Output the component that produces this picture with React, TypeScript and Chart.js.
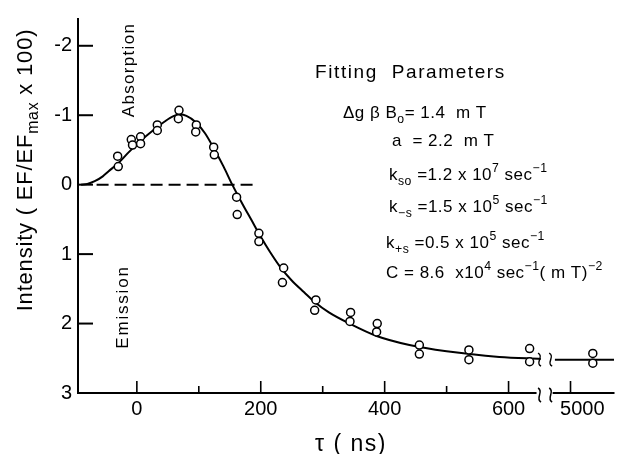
import React, { useEffect, useRef } from "react";
import { Chart, registerables } from "chart.js";

Chart.register(...registerables);

const FONT = "'Liberation Sans', Arial, Helvetica, sans-serif";

// Measured data points: delay time tau (ns) and intensity (EF/EFmax x 100)
const pointTau = [-31, -30, -9, -7, 6, 6, 33, 33, 68, 67, 96, 95, 124, 125, 161, 162, 197, 197, 237, 235, 289, 287, 345, 344, 388, 387, 456, 456, 536, 536, 634, 634, 5200, 5200];
const pointVal = [-0.41, -0.26, -0.65, -0.57, -0.69, -0.59, -0.86, -0.78, -1.07, -0.95, -0.86, -0.76, -0.54, -0.43, 0.18, 0.43, 0.7, 0.82, 1.2, 1.41, 1.66, 1.81, 1.84, 1.97, 2.0, 2.12, 2.31, 2.44, 2.38, 2.52, 2.36, 2.55, 2.43, 2.57];

// Fitted curve
const fitTau = [-90, -80, -68, -55, -46, -30, -15, 0, 15, 30, 45, 60, 70, 80, 95, 110, 125, 140, 154, 170, 185, 200, 215, 231, 250, 270, 287, 310, 343, 387, 440, 500, 585, 652];
const fitVal = [0.0, -0.01, -0.05, -0.12, -0.19, -0.31, -0.45, -0.58, -0.7, -0.81, -0.91, -0.99, -1.01, -0.99, -0.9, -0.74, -0.51, -0.26, 0.0, 0.27, 0.51, 0.75, 0.97, 1.18, 1.38, 1.55, 1.69, 1.84, 2.0, 2.18, 2.31, 2.4, 2.48, 2.51];
const tailTau = [4860, 5390];
const tailVal = [2.52, 2.52];

// Dashed zero line
const zeroTau = [-65, 190];
const zeroVal = [0, 0];

// Axes
const xMajorTicks = [0, 200, 400, 600, 5000];
const xMinorTicks = [100, 300, 500];
const yTicks = [-2, -1, 0, 1, 2, 3];
const X_MIN = -95;
const X_MAX = 771;
const Y_MIN = -2.4;
const Y_MAX = 3;

// Axis break: 5000 ns is drawn where 700 ns would be
const BREAK_AT = 5000;
const BREAK_POS = 700;
const BREAK_FACTOR = 0.18;
const breakMarksTau = [650, 4822];
const BREAK_LABEL_NUDGE = 19;

const toAxis = (t: number) => (t >= 1000 ? BREAK_POS + (t - BREAK_AT) * BREAK_FACTOR : t);

type Seg = { t: string; s?: "sub" | "sup" };

function segWidth(ctx: CanvasRenderingContext2D, segs: Seg[], size: number, spacing: number) {
  let w = 0;
  for (const seg of segs) {
    const fs = seg.s ? size * 0.72 : size;
    ctx.font = `${fs}px ${FONT}`;
    (ctx as any).letterSpacing = `${spacing}px`;
    w += ctx.measureText(seg.t).width;
  }
  return w;
}

function drawRich(ctx: CanvasRenderingContext2D, segs: Seg[], x: number, y: number, size: number, spacing: number) {
  let cx = x;
  ctx.textBaseline = "alphabetic";
  ctx.textAlign = "left";
  for (const seg of segs) {
    const fs = seg.s ? size * 0.72 : size;
    ctx.font = `${fs}px ${FONT}`;
    (ctx as any).letterSpacing = `${spacing}px`;
    const dy = seg.s === "sub" ? size * 0.28 : seg.s === "sup" ? -size * 0.45 : 0;
    ctx.fillText(seg.t, cx, y + dy);
    cx += ctx.measureText(seg.t).width;
  }
  (ctx as any).letterSpacing = "0px";
}

function drawRotated(ctx: CanvasRenderingContext2D, segs: Seg[], baseX: number, centerY: number, size: number, spacing: number) {
  const w = segWidth(ctx, segs, size, spacing);
  ctx.save();
  ctx.translate(baseX, centerY);
  ctx.rotate(-Math.PI / 2);
  drawRich(ctx, segs, -w / 2, 0, size, spacing);
  ctx.restore();
}

function squiggle(ctx: CanvasRenderingContext2D, cx: number, cy: number, h: number) {
  ctx.beginPath();
  ctx.moveTo(cx - 1.5, cy - h / 2);
  ctx.bezierCurveTo(cx + 5, cy - h / 4, cx - 5, cy + h / 4, cx + 1.5, cy + h / 2);
  ctx.stroke();
}

const decorPlugin = {
  id: "decor",
  afterDraw(chart: any) {
    const ctx: CanvasRenderingContext2D = chart.ctx;
    const xs = chart.scales.x;
    const ys = chart.scales.y;
    const { left, right, top, bottom } = chart.chartArea;
    ctx.save();
    ctx.strokeStyle = "#000";
    ctx.fillStyle = "#000";
    ctx.lineWidth = 2;
    ctx.lineCap = "butt";

    const gapL = xs.getPixelForValue(toAxis(breakMarksTau[0])) - 3;
    const gapR = xs.getPixelForValue(toAxis(breakMarksTau[1])) + 2;

    // axes
    ctx.beginPath();
    ctx.moveTo(left, top);
    ctx.lineTo(left, bottom + 1);
    ctx.moveTo(left - 1, bottom);
    ctx.lineTo(gapL, bottom);
    ctx.moveTo(gapR, bottom);
    ctx.lineTo(right, bottom);
    ctx.stroke();

    // y ticks (inside)
    ctx.lineWidth = 2;
    for (const v of yTicks) {
      if (v === Y_MAX) continue;
      const py = ys.getPixelForValue(v);
      ctx.beginPath();
      ctx.moveTo(left, py);
      ctx.lineTo(left + 15, py);
      ctx.stroke();
    }
    // x ticks (inside)
    ctx.lineWidth = 1.6;
    for (const t of xMajorTicks) {
      const px = xs.getPixelForValue(toAxis(t));
      ctx.beginPath();
      ctx.moveTo(px, bottom);
      ctx.lineTo(px, bottom - 12);
      ctx.stroke();
    }
    for (const t of xMinorTicks) {
      const px = xs.getPixelForValue(toAxis(t));
      ctx.beginPath();
      ctx.moveTo(px, bottom);
      ctx.lineTo(px, bottom - 7);
      ctx.stroke();
    }

    // break marks on axis and on curve
    ctx.lineWidth = 1.5;
    const curveY = ys.getPixelForValue(tailVal[0]);
    for (const t of breakMarksTau) {
      const px = xs.getPixelForValue(toAxis(t));
      squiggle(ctx, px, bottom + 2, 14);
      squiggle(ctx, px, curveY, 13);
    }

    // axis titles
    drawRotated(ctx, [{ t: "Intensity ( EF/EF" }, { t: "max", s: "sub" }, { t: " x 100)" }], 32, 170, 22, 0.8);
    drawRich(ctx, [{ t: "τ ( ns)" }], 315, 451, 23, 1.5);

    // annotations
    drawRotated(ctx, [{ t: "Absorption" }], 134, 70, 17, 1.3);
    drawRotated(ctx, [{ t: "Emission" }], 128, 307, 17, 1.8);

    const P = 17;
    const SP = 0.5;
    drawRich(ctx, [{ t: "Fitting  Parameters" }], 315, 78, 19, 1.6);
    drawRich(ctx, [{ t: "Δg β B" }, { t: "o", s: "sub" }, { t: "= 1.4  m T" }], 343, 118, P, SP);
    drawRich(ctx, [{ t: "a  = 2.2  m T" }], 392, 146, P, SP);
    drawRich(ctx, [{ t: "k" }, { t: "so", s: "sub" }, { t: " =1.2 x 10" }, { t: "7", s: "sup" }, { t: " sec" }, { t: "−1", s: "sup" }], 389, 180, P, SP);
    drawRich(ctx, [{ t: "k" }, { t: "−s", s: "sub" }, { t: " =1.5 x 10" }, { t: "5", s: "sup" }, { t: " sec" }, { t: "−1", s: "sup" }], 389, 212, P, SP);
    drawRich(ctx, [{ t: "k" }, { t: "+s", s: "sub" }, { t: " =0.5 x 10" }, { t: "5", s: "sup" }, { t: " sec" }, { t: "−1", s: "sup" }], 386, 248, P, SP);
    drawRich(ctx, [{ t: "C = 8.6  x10" }, { t: "4", s: "sup" }, { t: " sec" }, { t: "−1", s: "sup" }, { t: "( m T)" }, { t: "−2", s: "sup" }], 386, 278, P, SP);

    ctx.restore();
  },
};

export default function App() {
  const ref = useRef<HTMLCanvasElement | null>(null);

  useEffect(() => {
    if (!ref.current) return;
    const xLabelTicks = xMajorTicks.map((t) => toAxis(t) + (t >= 1000 ? BREAK_LABEL_NUDGE : 0));
    const labelFor = (v: number) => {
      const i = xLabelTicks.findIndex((p) => Math.abs(p - v) < 1e-6);
      return i >= 0 ? String(xMajorTicks[i]) : "";
    };

    const chart = new Chart(ref.current, {
      type: "line",
      data: {
        datasets: [
          {
            type: "scatter",
            label: "data",
            data: pointTau.map((t, i) => ({ x: toAxis(t), y: pointVal[i] })),
            showLine: false,
            pointRadius: 4,
            pointBorderWidth: 1.5,
            pointBackgroundColor: "#fff",
            pointBorderColor: "#000",
            borderColor: "#000",
          } as any,
          {
            label: "fit",
            data: fitTau.map((t, i) => ({ x: toAxis(t), y: fitVal[i] })),
            borderColor: "#000",
            borderWidth: 2,
            pointRadius: 0,
            cubicInterpolationMode: "monotone",
            fill: false,
          },
          {
            label: "fit tail",
            data: tailTau.map((t, i) => ({ x: toAxis(t), y: tailVal[i] })),
            borderColor: "#000",
            borderWidth: 2,
            pointRadius: 0,
            fill: false,
          },
          {
            label: "zero",
            data: zeroTau.map((t, i) => ({ x: toAxis(t), y: zeroVal[i] })),
            borderColor: "#000",
            borderWidth: 2,
            borderDash: [12, 6],
            pointRadius: 0,
            fill: false,
          },
        ],
      },
      options: {
        animation: false,
        responsive: false,
        devicePixelRatio: 1,
        layout: { padding: { top: 13, right: 5, left: 0, bottom: 0 } },
        plugins: { legend: { display: false }, tooltip: { enabled: false } },
        scales: {
          x: {
            type: "linear",
            min: X_MIN,
            max: X_MAX,
            grid: { display: false, drawTicks: false },
            border: { display: false },
            afterBuildTicks: (s: any) => {
              s.ticks = xLabelTicks.map((v) => ({ value: v }));
            },
            afterFit: (s: any) => {
              s.height = 61;
            },
            ticks: {
              color: "#000",
              font: { family: FONT, size: 20 },
              padding: 4,
              maxRotation: 0,
              autoSkip: false,
              callback: (v: any) => labelFor(Number(v)),
            },
          },
          y: {
            type: "linear",
            reverse: true,
            min: Y_MIN,
            max: Y_MAX,
            grid: { display: false, drawTicks: false },
            border: { display: false },
            afterBuildTicks: (s: any) => {
              s.ticks = yTicks.map((v) => ({ value: v }));
            },
            afterFit: (s: any) => {
              s.width = 78;
            },
            ticks: {
              color: "#000",
              font: { family: FONT, size: 20 },
              padding: 6,
              callback: (v: any) => String(v),
            },
          },
        },
      } as any,
      plugins: [decorPlugin],
    });
    return () => chart.destroy();
  }, []);

  return (
    <div style={{ position: "fixed", left: 0, top: 0, width: 620, height: 454, background: "#fff" }}>
      <canvas ref={ref} width={620} height={454} style={{ width: 620, height: 454, display: "block" }} />
    </div>
  );
}
